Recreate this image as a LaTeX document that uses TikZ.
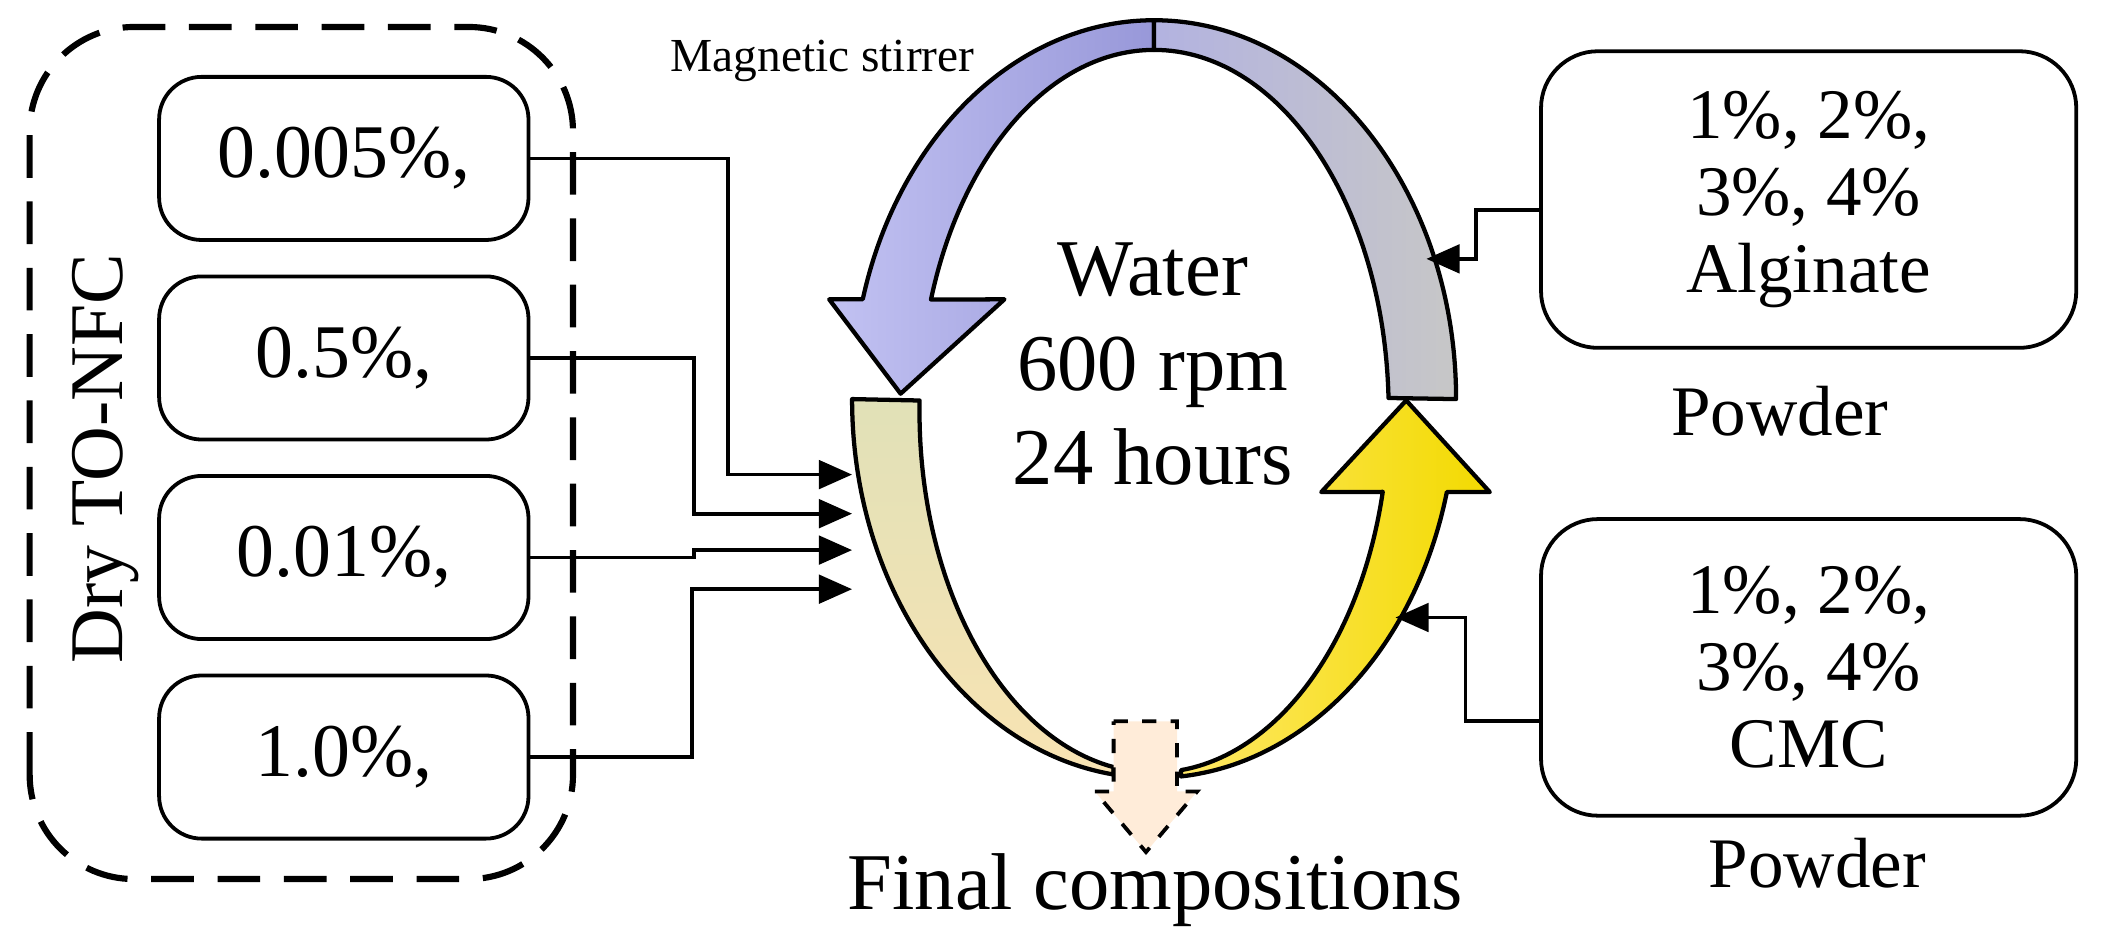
\documentclass[tikz,border=0pt]{standalone}
\usepackage{fontspec}
\setmainfont{Liberation Serif}
\usetikzlibrary{positioning,arrows.meta,calc}

\tikzset{
  pbox/.style={draw,line width=0.8pt,rounded corners=9pt,minimum width=2.74cm,
               minimum height=1.21cm,font=\fontsize{16}{18}\selectfont},
  rbox/.style={draw,line width=0.8pt,rounded corners=12pt,minimum width=3.97cm,
               minimum height=2.2cm,align=center,font=\fontsize{15}{16.2}\selectfont},
  feed/.style={line width=0.8pt,-{Triangle[length=7pt,width=6pt]}},
  band/.style={draw,line width=0.9pt,line join=round},
  oarc/.style={x radius=2.24cm,y radius=2.81cm},
  iarc/.style={x radius=1.74cm,y radius=2.68cm}
}

\begin{document}
\begin{tikzpicture}
  \useasboundingbox (0,0) rectangle (15.68,7.03);
  % ------- ring centres -------
  \coordinate (co) at (8.56,4.07);   % outer ellipse centre
  \coordinate (ci) at (8.56,3.98);   % inner ellipse centre

  % ------- blue arrow (top left) -------
  \path[band,left color=blue!20!white!95!black,right color=blue!30!white!85!black]
    ($(co)+(90:2.24cm and 2.81cm)$)
    arc[start angle=90,end angle=164.7,oarc]
    -- (6.15,4.81) -- (6.68,4.11) -- (7.45,4.81)
    -- ($(ci)+(162:1.74cm and 2.68cm)$)
    arc[start angle=162,end angle=90,iarc] -- cycle;

  % ------- gray band (top right) -------
  \path[band,left color=black!40!blue!30,right color=black!22]
    ($(co)+(90:2.24cm and 2.81cm)$)
    arc[start angle=90,end angle=0,oarc]
    -- ($(ci)+(2.1:1.74cm and 2.68cm)$)
    arc[start angle=2.1,end angle=90,iarc] -- cycle;

  % ------- tan band (left) -------
  \path[band,top color=black!10!yellow!20!white!90!black,bottom color=black!20!yellow!45!orange!30]
    ($(co)+(180:2.24cm and 2.81cm)$)
    arc[start angle=180,end angle=262.3,oarc]
    -- ($(ci)+(260:1.74cm and 2.68cm)$)
    arc[start angle=260,end angle=178.3,iarc] -- cycle;

  % ------- yellow arrow (bottom right) -------
  \path[band,left color=yellow!70!orange!60,right color=orange!20!yellow!95!black]
    ($(co)+(275.1:2.24cm and 2.81cm)$)
    arc[start angle=275.1,end angle=345.8,oarc]
    -- (11.05,3.38) -- (10.43,4.06) -- (9.80,3.38)
    -- ($(ci)+(347.1:1.74cm and 2.68cm)$)
    arc[start angle=347.1,end angle=276.6,iarc] -- cycle;

  % ------- output arrow -------
  \draw[line width=0.8pt,dashed,fill=orange!15] (8.26,1.68) -- (8.73,1.68) -- (8.73,1.16)
    -- (8.88,1.16) -- (8.50,0.71) -- (8.12,1.16) -- (8.26,1.16) -- cycle;

  % ------- texts in the ring -------
  \node[align=center,font=\fontsize{17}{20}\selectfont] (mix) at (8.55,4.33)
    {Water\\600 rpm\\24 hours};
  \node[font=\fontsize{17}{20}\selectfont] (out) at (8.57,0.43) {Final compositions};
  \node[font=\fontsize{10}{12}\selectfont] (stir) at (6.1,6.58) {Magnetic stirrer};

  % ------- TO-NFC group -------
  \draw[line width=1.3pt,dash pattern=on 9pt off 5pt,rounded corners=22pt]
    (0.22,0.51) rectangle (4.25,6.83);
  \node[rotate=90,font=\fontsize{16}{18}\selectfont] (dry) at (0.78,3.63) {Dry TO-NFC};
  \node[pbox] (c1) at (2.55,5.855) {0.005\%,};
  \node[pbox] (c2) at (2.55,4.375) {0.5\%,};
  \node[pbox] (c3) at (2.55,2.895) {0.01\%,};
  \node[pbox] (c4) at (2.55,1.415) {1.0\%,};

  \coordinate (e1) at (6.32,3.51);
  \coordinate (e2) at (6.32,3.22);
  \coordinate (e3) at (6.32,2.95);
  \coordinate (e4) at (6.32,2.66);
  \draw[feed] (c1.east) -| (5.40,3.51) -- (e1);
  \draw[feed] (c2.east) -| (5.15,3.22) -- (e2);
  \draw[feed] (c3.east) -| (5.15,2.95) -- (e3);
  \draw[feed] (c4.east) -| (5.13,2.66) -- (e4);

  % ------- polymer boxes -------
  \node[rbox] (alg) at (13.415,5.55) {1\%, 2\%,\\3\%, 4\%\\Alginate};
  \node[font=\fontsize{15}{16}\selectfont] (algp) at (13.2,3.98) {Powder};
  \node[rbox] (cmc) at (13.415,2.08) {1\%, 2\%,\\3\%, 4\%\\CMC};
  \node[font=\fontsize{15}{16}\selectfont] (cmcp) at (13.48,0.63) {Powder};

  \coordinate (ea) at (10.58,5.11);
  \coordinate (ec) at (10.35,2.45);
  \draw[feed] (alg.west |- 0,5.47) -| (10.95,5.11) -- (ea);
  \draw[feed] (cmc.west |- 0,1.68) -| (10.87,2.45) -- (ec);
\end{tikzpicture}
\end{document}
